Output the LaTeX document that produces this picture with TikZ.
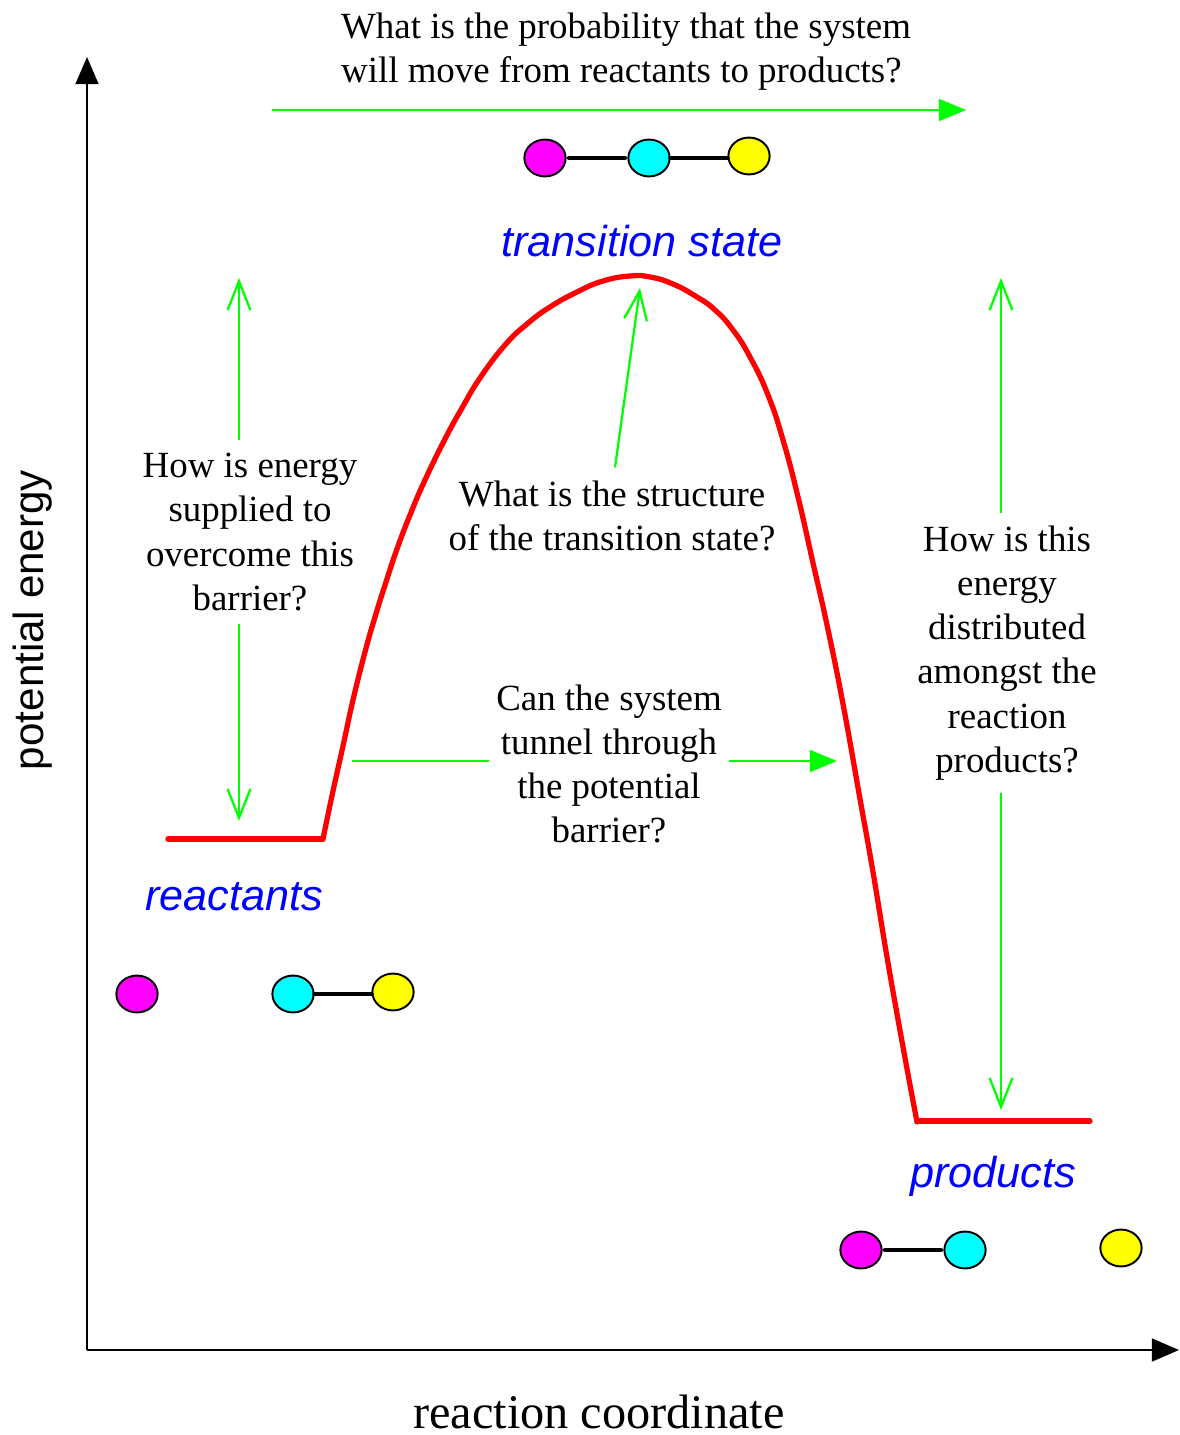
\documentclass[tikz,border=0pt]{standalone}
\usepackage{fontspec}
\setmainfont{Liberation Serif}
\setsansfont{Liberation Sans}
\definecolor{pathred}{RGB}{255,0,0}
\definecolor{asklime}{RGB}{0,255,0}
\definecolor{namblue}{RGB}{0,0,255}
\definecolor{atompink}{RGB}{255,0,255}
\definecolor{atomcyan}{RGB}{0,255,255}
\definecolor{atomyellow}{RGB}{255,255,0}
\usetikzlibrary{arrows.meta,positioning,shapes.geometric}

\begin{document}
\begin{tikzpicture}[x=0.02cm,y=-0.02cm,
  axisline/.style={-{Triangle[length=15.5pt,width=13pt]},black,line width=1.4pt},
  path/.style={pathred,line width=3pt,line cap=round,line join=round},
  ask/.style={asklime,line width=1.3pt},
  askopen/.style={ask,-{Straight Barb[length=16.5pt,width=13pt]}},
  askfill/.style={ask,-{Triangle[length=15.5pt,width=12.5pt]}},
  question/.style={align=center,inner sep=3pt,font=\fontsize{21}{25.1}\selectfont},
  statename/.style={namblue,font=\fontsize{24.6}{29}\selectfont\sffamily\itshape},
  atom/.style={draw,ellipse,line width=1.1pt,minimum width=23.5pt,minimum height=21pt,inner sep=0pt},
  bond/.style={black,line width=2.7pt,line cap=round}]
  \useasboundingbox (0,0) rectangle (1179,1435);
  % Axes
  \coordinate (origin) at (87,1350);
  \coordinate (energytop) at (87,57);
  \coordinate (coordend) at (1179,1350);
  \draw[axisline] (origin) -- (energytop);
  \draw[axisline] (origin) -- (coordend);
  \node[inner sep=0pt,font=\fontsize{27.5}{32}\selectfont] (coordlabel) at (599,1412) {reaction coordinate};
  \node[rotate=90,font=\fontsize{24}{28}\selectfont\sffamily] (energylabel) at (33,620) {potential energy};
  % Reaction path
  \draw[path] (168,839) -- (323,839);
  \draw[path] plot[smooth,tension=0.8] coordinates {(323,839) (333,791) (343,746) (353,700) (365,652) (375,617)
    (386,582) (397,549) (410,515) (425,480) (445,439) (462,408) (480,378) (505,345) (527,324) (550,307) (577,292)
    (603,281) (630,276) (650,277) (673,284) (697,297) (715,310) (733,330) (750,357) (768,395) (783,440)
    (798,497) (813,563) (827,625) (843,704) (860,799) (873,872) (887,957) (903,1047) (917,1122)};
  \draw[path] (918,1121) -- (1090,1121);
  % Names of the states
  \node[statename] (tsname) at (642,241) {transition state};
  \node[statename] (reactname) at (234,897) {reactants};
  \node[statename] (prodname) at (993,1176) {products};
  % Atoms and bonds
  \node[atom,fill=atompink] (ra) at (137,994) {};
  \node[atom,fill=atomcyan] (rb) at (293,994) {};
  \node[atom,fill=atomyellow] (rc) at (393,992) {};
  \draw[bond] (rb) -- (rb -| rc.west);
  \node[atom,fill=atompink] (ta) at (545,158) {};
  \node[atom,fill=atomcyan] (tb) at (649,158) {};
  \node[atom,fill=atomyellow] (tc) at (749,156) {};
  \draw[bond,shorten <=1.5pt,shorten >=1.5pt] (ta) -- (tb);
  \draw[bond] (tb) -- (tb -| tc.west);
  \node[atom,fill=atompink] (pa) at (861,1250) {};
  \node[atom,fill=atomcyan] (pb) at (965,1250) {};
  \node[atom,fill=atomyellow] (pc) at (1121,1248) {};
  \draw[bond,shorten <=1.5pt,shorten >=1.5pt] (pa) -- (pb);
  % Top question
  \node[question,align=left] (qprob) at (626,52) {What is the probability that the system\\will move from reactants to products?};
  \coordinate (probtail) at (272,110);
  \coordinate (probhead) at (966,110);
  \draw[askfill] (probtail) -- (probhead);
  % Barrier question
  \node[question,inner ysep=7.5pt] (qbarrier) at (250,532) {How is energy\\supplied to\\overcome this\\barrier?};
  \coordinate (barriertop) at (239,278);
  \coordinate (barrierlow) at (239,821);
  \draw[askopen] (qbarrier.north -| barriertop) -- (barriertop);
  \draw[askopen] (qbarrier.south -| barrierlow) -- (barrierlow);
  % Structure question
  \node[question,inner ysep=7.5pt] (qstruct) at (612,516) {What is the structure\\of the transition state?};
  \coordinate (structhead) at (640,288);
  \draw[askopen] (qstruct.north) ++(3,0) -- (structhead);
  % Tunnel question
  \node[question,inner xsep=4pt] (qtunnel) at (609,764) {Can the system\\tunnel through\\the potential\\barrier?};
  \coordinate (tunneltail) at (352,761);
  \coordinate (tunnelhead) at (837,761);
  \draw[ask] (tunneltail) -- (tunneltail -| qtunnel.west);
  \draw[askfill] (tunnelhead -| qtunnel.east) -- (tunnelhead);
  % Energy question
  \node[question,inner ysep=7pt] (qenergy) at (1007,653) {How is this\\energy\\distributed\\amongst the\\reaction\\products?};
  \coordinate (energyup) at (1001,278);
  \coordinate (energylow) at (1001,1110);
  \draw[askopen] (qenergy.north -| energyup) -- (energyup);
  \draw[askopen] (qenergy.south -| energylow) -- (energylow);
\end{tikzpicture}
\end{document}
